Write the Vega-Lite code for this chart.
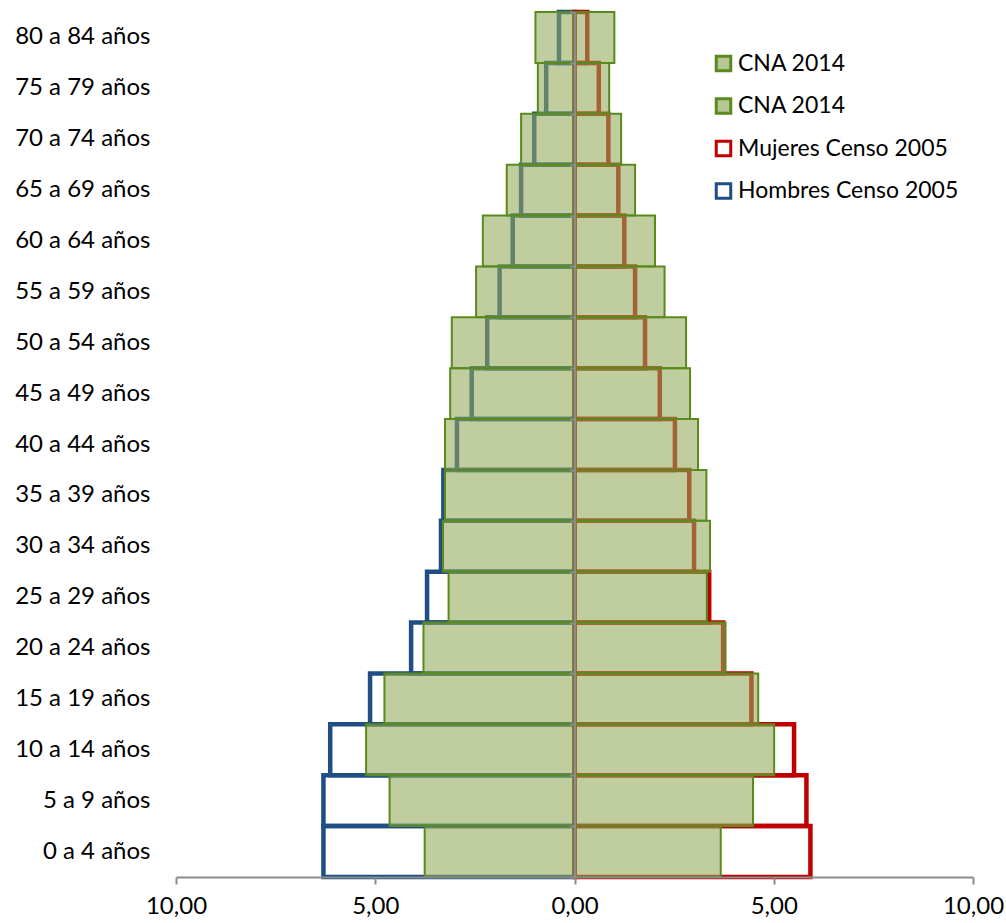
{
  "$schema": "https://vega.github.io/schema/vega-lite/v6.json",
  "width": 797,
  "height": 865,
  "autosize": {"type": "none"},
  "padding": {"left": 176, "top": 12, "right": 33, "bottom": 46},
  "background": "white",
  "config": {"view": {"stroke": null}, "font": "Lato"},
  "datasets": {
    "pop": [
      {"edad": "80 a 84 años", "serie": "CNA 2014 H", "valor": -0.98},
      {"edad": "80 a 84 años", "serie": "CNA 2014 M", "valor": 1.00},
      {"edad": "80 a 84 años", "serie": "Hombres Censo 2005", "valor": -0.39},
      {"edad": "80 a 84 años", "serie": "Mujeres Censo 2005", "valor": 0.32},
      {"edad": "75 a 79 años", "serie": "CNA 2014 H", "valor": -0.92},
      {"edad": "75 a 79 años", "serie": "CNA 2014 M", "valor": 0.87},
      {"edad": "75 a 79 años", "serie": "Hombres Censo 2005", "valor": -0.71},
      {"edad": "75 a 79 años", "serie": "Mujeres Censo 2005", "valor": 0.61},
      {"edad": "70 a 74 años", "serie": "CNA 2014 H", "valor": -1.34},
      {"edad": "70 a 74 años", "serie": "CNA 2014 M", "valor": 1.17},
      {"edad": "70 a 74 años", "serie": "Hombres Censo 2005", "valor": -1.01},
      {"edad": "70 a 74 años", "serie": "Mujeres Censo 2005", "valor": 0.85},
      {"edad": "65 a 69 años", "serie": "CNA 2014 H", "valor": -1.70},
      {"edad": "65 a 69 años", "serie": "CNA 2014 M", "valor": 1.52},
      {"edad": "65 a 69 años", "serie": "Hombres Censo 2005", "valor": -1.34},
      {"edad": "65 a 69 años", "serie": "Mujeres Censo 2005", "valor": 1.10},
      {"edad": "60 a 64 años", "serie": "CNA 2014 H", "valor": -2.30},
      {"edad": "60 a 64 años", "serie": "CNA 2014 M", "valor": 2.02},
      {"edad": "60 a 64 años", "serie": "Hombres Censo 2005", "valor": -1.55},
      {"edad": "60 a 64 años", "serie": "Mujeres Censo 2005", "valor": 1.25},
      {"edad": "55 a 59 años", "serie": "CNA 2014 H", "valor": -2.47},
      {"edad": "55 a 59 años", "serie": "CNA 2014 M", "valor": 2.26},
      {"edad": "55 a 59 años", "serie": "Hombres Censo 2005", "valor": -1.88},
      {"edad": "55 a 59 años", "serie": "Mujeres Censo 2005", "valor": 1.52},
      {"edad": "50 a 54 años", "serie": "CNA 2014 H", "valor": -3.08},
      {"edad": "50 a 54 años", "serie": "CNA 2014 M", "valor": 2.80},
      {"edad": "50 a 54 años", "serie": "Hombres Censo 2005", "valor": -2.19},
      {"edad": "50 a 54 años", "serie": "Mujeres Censo 2005", "valor": 1.77},
      {"edad": "45 a 49 años", "serie": "CNA 2014 H", "valor": -3.12},
      {"edad": "45 a 49 años", "serie": "CNA 2014 M", "valor": 2.90},
      {"edad": "45 a 49 años", "serie": "Hombres Censo 2005", "valor": -2.58},
      {"edad": "45 a 49 años", "serie": "Mujeres Censo 2005", "valor": 2.14},
      {"edad": "40 a 44 años", "serie": "CNA 2014 H", "valor": -3.25},
      {"edad": "40 a 44 años", "serie": "CNA 2014 M", "valor": 3.10},
      {"edad": "40 a 44 años", "serie": "Hombres Censo 2005", "valor": -2.95},
      {"edad": "40 a 44 años", "serie": "Mujeres Censo 2005", "valor": 2.52},
      {"edad": "35 a 39 años", "serie": "CNA 2014 H", "valor": -3.25},
      {"edad": "35 a 39 años", "serie": "CNA 2014 M", "valor": 3.31},
      {"edad": "35 a 39 años", "serie": "Hombres Censo 2005", "valor": -3.29},
      {"edad": "35 a 39 años", "serie": "Mujeres Censo 2005", "valor": 2.88},
      {"edad": "30 a 34 años", "serie": "CNA 2014 H", "valor": -3.30},
      {"edad": "30 a 34 años", "serie": "CNA 2014 M", "valor": 3.40},
      {"edad": "30 a 34 años", "serie": "Hombres Censo 2005", "valor": -3.35},
      {"edad": "30 a 34 años", "serie": "Mujeres Censo 2005", "valor": 3.00},
      {"edad": "25 a 29 años", "serie": "CNA 2014 H", "valor": -3.16},
      {"edad": "25 a 29 años", "serie": "CNA 2014 M", "valor": 3.32},
      {"edad": "25 a 29 años", "serie": "Hombres Censo 2005", "valor": -3.70},
      {"edad": "25 a 29 años", "serie": "Mujeres Censo 2005", "valor": 3.38},
      {"edad": "20 a 24 años", "serie": "CNA 2014 H", "valor": -3.79},
      {"edad": "20 a 24 años", "serie": "CNA 2014 M", "valor": 3.79},
      {"edad": "20 a 24 años", "serie": "Hombres Censo 2005", "valor": -4.10},
      {"edad": "20 a 24 años", "serie": "Mujeres Censo 2005", "valor": 3.73},
      {"edad": "15 a 19 años", "serie": "CNA 2014 H", "valor": -4.77},
      {"edad": "15 a 19 años", "serie": "CNA 2014 M", "valor": 4.61},
      {"edad": "15 a 19 años", "serie": "Hombres Censo 2005", "valor": -5.13},
      {"edad": "15 a 19 años", "serie": "Mujeres Censo 2005", "valor": 4.44},
      {"edad": "10 a 14 años", "serie": "CNA 2014 H", "valor": -5.23},
      {"edad": "10 a 14 años", "serie": "CNA 2014 M", "valor": 5.01},
      {"edad": "10 a 14 años", "serie": "Hombres Censo 2005", "valor": -6.13},
      {"edad": "10 a 14 años", "serie": "Mujeres Censo 2005", "valor": 5.51},
      {"edad": "5 a 9 años", "serie": "CNA 2014 H", "valor": -4.64},
      {"edad": "5 a 9 años", "serie": "CNA 2014 M", "valor": 4.48},
      {"edad": "5 a 9 años", "serie": "Hombres Censo 2005", "valor": -6.30},
      {"edad": "5 a 9 años", "serie": "Mujeres Censo 2005", "valor": 5.82},
      {"edad": "0 a 4 años", "serie": "CNA 2014 H", "valor": -3.76},
      {"edad": "0 a 4 años", "serie": "CNA 2014 M", "valor": 3.67},
      {"edad": "0 a 4 años", "serie": "Hombres Censo 2005", "valor": -6.30},
      {"edad": "0 a 4 años", "serie": "Mujeres Censo 2005", "valor": 5.92}
    ]
  },
  "data": {"name": "pop"},
  "encoding": {
    "x": {
      "field": "valor",
      "type": "quantitative",
      "stack": null,
      "scale": {"domain": [-10, 10], "nice": false, "zero": true},
      "axis": {
        "title": null,
        "values": [-10, -5, 0, 5, 10],
        "labelExpr": "replace(format(abs(datum.value), '.2f'), '.', ',')",
        "labelFontSize": 24,
        "labelColor": "#000000",
        "labelPadding": 10,
        "labelFlush": false,
        "labelOverlap": false,
        "tickSize": 7,
        "tickWidth": 2,
        "tickColor": "#8c8c8c",
        "domainColor": "#8c8c8c",
        "domainWidth": 2,
        "grid": false,
        "zindex": 1
      }
    }
  },
  "layer": [
    {
      "transform": [{"filter": "indexof(datum.serie, 'Censo') >= 0"}],
      "mark": {"type": "bar", "fillOpacity": 0, "strokeWidth": 4.5, "strokeJoin": "miter"},
      "encoding": {
        "y": {
          "field": "edad",
          "type": "nominal",
          "sort": ["80 a 84 años", "75 a 79 años", "70 a 74 años", "65 a 69 años", "60 a 64 años", "55 a 59 años", "50 a 54 años", "45 a 49 años", "40 a 44 años", "35 a 39 años", "30 a 34 años", "25 a 29 años", "20 a 24 años", "15 a 19 años", "10 a 14 años", "5 a 9 años", "0 a 4 años"],
          "scale": {"paddingInner": 0, "paddingOuter": 0},
          "axis": {"title": null, "orient": "left", "domain": false, "ticks": false, "labelFontSize": 24, "labelColor": "#000000", "labelPadding": 26, "labelLimit": 0}
        },
        "fill": {
          "field": "serie", "type": "nominal", "title": null,
          "scale": {"domain": ["CNA 2014 M", "CNA 2014 H", "Mujeres Censo 2005", "Hombres Censo 2005"], "range": ["#90a85a", "#90a85a", "#ffffff", "#ffffff"]},
          "legend": {"orient": "none", "legendX": 536, "legendY": 40, "symbolType": "square", "symbolSize": 210, "symbolStrokeWidth": 3, "labelFontSize": 23, "labelColor": "#000000", "labelLimit": 0, "rowPadding": 15.5, "labelOffset": 3, "labelExpr": "indexof(datum.label, 'CNA') == 0 ? 'CNA 2014' : datum.label", "encode": {"symbols": {"update": {"fillOpacity": {"value": 0.65}, "opacity": {"value": 1}}}}}
        },
        "stroke": {
          "field": "serie", "type": "nominal", "title": null,
          "scale": {"domain": ["CNA 2014 M", "CNA 2014 H", "Mujeres Censo 2005", "Hombres Censo 2005"], "range": ["#5a8a1c", "#5a8a1c", "#c00000", "#1f4e85"]},
          "legend": {"orient": "none", "legendX": 536, "legendY": 40, "symbolType": "square", "symbolSize": 210, "symbolStrokeWidth": 3, "labelFontSize": 23, "labelColor": "#000000", "labelLimit": 0, "rowPadding": 15.5, "labelOffset": 3, "labelExpr": "indexof(datum.label, 'CNA') == 0 ? 'CNA 2014' : datum.label", "encode": {"symbols": {"update": {"fillOpacity": {"value": 0.65}, "opacity": {"value": 1}}}}}
        }
      }
    },
    {
      "transform": [{"filter": "indexof(datum.serie, 'CNA') == 0"}],
      "mark": {"type": "bar", "fillOpacity": 0.58, "strokeWidth": 2},
      "encoding": {
        "y": {
          "field": "edad",
          "type": "nominal",
          "sort": ["80 a 84 años", "75 a 79 años", "70 a 74 años", "65 a 69 años", "60 a 64 años", "55 a 59 años", "50 a 54 años", "45 a 49 años", "40 a 44 años", "35 a 39 años", "30 a 34 años", "25 a 29 años", "20 a 24 años", "15 a 19 años", "10 a 14 años", "5 a 9 años", "0 a 4 años"],
          "scale": {"paddingInner": 0, "paddingOuter": 0},
          "axis": {"title": null, "orient": "left", "offset": -398.5, "labels": false, "ticks": true, "tickSize": 5, "tickBand": "extent", "tickWidth": 2, "tickColor": "#8c8c8c", "domainColor": "#8c8c8c", "domainWidth": 2, "zindex": 1}
        },
        "fill": {"field": "serie", "type": "nominal", "title": null},
        "stroke": {"field": "serie", "type": "nominal", "title": null}
      }
    }
  ],
  "resolve": {"axis": {"y": "independent"}}
}
